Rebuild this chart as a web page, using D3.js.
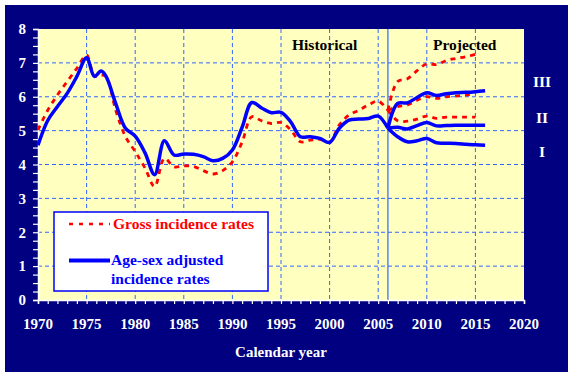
<!DOCTYPE html>
<html>
<head>
<meta charset="utf-8">
<script src="https://cdn.jsdelivr.net/npm/d3@7"></script>
<style>
  body { margin: 0; background: #ffffff; }
</style>
</head>
<body>
<div id="vis"></div>
<script>
// historical data
var hist_years = [1970, 1971, 1972, 1973, 1974, 1975, 1975.8, 1976.5, 1977, 1978, 1979, 1980, 1981, 1982, 1983, 1984, 1985,
  1986, 1987, 1988, 1989, 1990, 1991, 1992, 1993, 1994, 1995, 1996, 1997, 1998, 1999, 2000, 2001, 2002, 2003, 2004, 2005, 2006];
var adjusted_hist = [4.57, 5.3, 5.71, 6.1, 6.6, 7.15, 6.6, 6.76, 6.6, 5.8, 5.07, 4.84, 4.35, 3.7, 4.7, 4.28, 4.31,
  4.3, 4.23, 4.11, 4.18, 4.43, 5.1, 5.83, 5.67, 5.53, 5.54, 5.26, 4.82, 4.82, 4.77, 4.65, 5.07, 5.31, 5.34, 5.36, 5.43, 5.07];
var gross_hist = [5.02, 5.6, 6.05, 6.45, 6.84, 7.23, 6.61, 6.64, 6.6, 5.6, 4.82, 4.38, 3.9, 3.35, 4.18, 3.93, 3.96,
  3.94, 3.82, 3.72, 3.82, 4.08, 4.66, 5.41, 5.29, 5.21, 5.24, 5.02, 4.67, 4.72, 4.74, 4.66, 5.17, 5.46, 5.6, 5.76, 5.87, 5.6];

// projections (scenarios I, II, III)
var adj_proj_years = [2006, 2007, 2008, 2009, 2010, 2011, 2012, 2013, 2014, 2015, 2016];
var adjusted_I   = [5.07, 4.82, 4.67, 4.7, 4.77, 4.64, 4.63, 4.62, 4.6, 4.58, 4.57];
var adjusted_II  = [5.07, 5.1, 5.05, 5.15, 5.24, 5.14, 5.15, 5.16, 5.16, 5.16, 5.16];
var adjusted_III = [5.07, 5.8, 5.82, 5.98, 6.12, 6.04, 6.09, 6.12, 6.13, 6.15, 6.18];

var gross_proj_years = [2006, 2007, 2008, 2009, 2010, 2011, 2012, 2013, 2014, 2015];
var gross_I   = [5.6, 5.29, 5.28, 5.34, 5.43, 5.36, 5.4, 5.4, 5.4, 5.4];
var gross_II  = [5.6, 5.71, 5.76, 5.9, 6.0, 5.95, 6.0, 6.02, 6.05, 6.1];
var gross_III = [5.6, 6.45, 6.53, 6.77, 6.97, 6.95, 7.07, 7.13, 7.18, 7.25];

var x_ticks = [1970, 1975, 1980, 1985, 1990, 1995, 2000, 2005, 2010, 2015, 2020];
var y_ticks = [0, 1, 2, 3, 4, 5, 6, 7, 8];
var scenario_labels = ['III', 'II', 'I'];

var navy = '#000080';
var grid_color = '#3366ff';
var serif = '"Liberation Serif", "DejaVu Serif", "Times New Roman", serif';

var W = 573, H = 376;
var margin = {left: 38, right: 49, top: 29, bottom: 76};
var width = W - margin.left - margin.right;
var height = H - margin.top - margin.bottom;

var svg = d3.select('#vis')
  .append('svg')
  .attr('width', W)
  .attr('height', H)
  .attr('font-family', serif)
  .attr('font-weight', 'bold')
  .style('font-family', serif)
  .style('font-weight', 'bold');

svg.append('rect')
  .attr('x', 5).attr('y', 5)
  .attr('width', 563).attr('height', 367)
  .attr('fill', navy);

var g = svg.append('g')
  .attr('transform', 'translate(' + margin.left + ',' + margin.top + ')');

var x_scale = d3.scaleLinear().domain([1970, 2020]).range([0, width]);
var y_scale = d3.scaleLinear().domain([0, 8]).range([height, 0]);

g.append('rect')
  .attr('width', width).attr('height', height)
  .attr('fill', '#ffffc0');

// dashed grid
g.selectAll('.hgrid')
  .data(y_ticks.filter(function(d) { return d > 0 && d < 8; }))
  .enter().append('line')
  .attr('class', 'hgrid')
  .attr('x1', 0).attr('x2', width)
  .attr('y1', function(d) { return y_scale(d); })
  .attr('y2', function(d) { return y_scale(d); })
  .attr('stroke', grid_color)
  .attr('stroke-dasharray', '4,3');

g.selectAll('.vgrid')
  .data(x_ticks.filter(function(d) { return d > 1970 && d < 2020; }))
  .enter().append('line')
  .attr('class', 'vgrid')
  .attr('y1', 0).attr('y2', height)
  .attr('x1', function(d) { return x_scale(d); })
  .attr('x2', function(d) { return x_scale(d); })
  .attr('stroke', grid_color)
  .attr('stroke-dasharray', '4,3');

// boundary historical / projected
g.append('line')
  .attr('x1', x_scale(2006)).attr('x2', x_scale(2006))
  .attr('y1', 0).attr('y2', height)
  .attr('stroke', grid_color)
  .attr('stroke-width', 1.2);

// axes
var x_axis = d3.axisBottom(x_scale)
  .tickValues(d3.range(1970, 2021, 1))
  .tickSize(4)
  .tickFormat('');
var y_axis = d3.axisLeft(y_scale)
  .tickValues(d3.range(0, 8.01, 0.25))
  .tickSize(5)
  .tickFormat('');

var xg = g.append('g').attr('transform', 'translate(0,' + height + ')').call(x_axis);
var yg = g.append('g').call(y_axis);
[xg, yg].forEach(function(a) {
  a.select('.domain').attr('stroke', '#ffffff').attr('stroke-width', 1.5);
  a.selectAll('.tick line').attr('stroke', '#ffffff').attr('stroke-width', 1.2);
});

g.selectAll('.xlab')
  .data(x_ticks)
  .enter().append('text')
  .attr('x', function(d) { return x_scale(d); })
  .attr('y', height + 29)
  .attr('text-anchor', 'middle')
  .attr('fill', '#ffffff')
  .style('font-size', '15px')
  .text(function(d) { return d; });

g.selectAll('.ylab')
  .data(y_ticks)
  .enter().append('text')
  .attr('x', -12)
  .attr('y', function(d) { return y_scale(d); })
  .attr('dy', '0.35em')
  .attr('text-anchor', 'end')
  .attr('fill', '#ffffff')
  .style('font-size', '15px')
  .text(function(d) { return d; });

svg.append('text')
  .attr('x', 281).attr('y', 357)
  .attr('text-anchor', 'middle')
  .attr('fill', '#ffffff')
  .style('font-size', '15px')
  .text('Calendar year');

// lines
var line = d3.line()
  .x(function(d) { return x_scale(d[0]); })
  .y(function(d) { return y_scale(d[1]); })
  .curve(d3.curveCatmullRom.alpha(0.5));

function draw_series(years, values, color, dashed) {
  g.append('path')
    .datum(d3.zip(years, values))
    .attr('d', line)
    .attr('fill', 'none')
    .attr('stroke', color)
    .attr('stroke-width', dashed ? 2.8 : 3.5)
    .attr('stroke-dasharray', dashed ? '5,5' : null)
    .attr('stroke-linejoin', 'round');
}

draw_series(hist_years, gross_hist, '#ff0000', true);
draw_series(gross_proj_years, gross_I, '#ff0000', true);
draw_series(gross_proj_years, gross_II, '#ff0000', true);
draw_series(gross_proj_years, gross_III, '#ff0000', true);

draw_series(hist_years, adjusted_hist, '#0000ff', false);
draw_series(adj_proj_years, adjusted_I, '#0000ff', false);
draw_series(adj_proj_years, adjusted_II, '#0000ff', false);
draw_series(adj_proj_years, adjusted_III, '#0000ff', false);

// period labels
svg.append('text').attr('x', 292).attr('y', 50).attr('fill', '#000000')
  .style('font-size', '15.5px').text('Historical');
svg.append('text').attr('x', 433).attr('y', 50).attr('fill', '#000000')
  .style('font-size', '15.5px').text('Projected');

// scenario labels
svg.selectAll('.scen')
  .data(scenario_labels)
  .enter().append('text')
  .attr('x', 542)
  .attr('y', function(d, i) { return [87, 123, 157][i]; })
  .attr('text-anchor', 'middle')
  .attr('fill', '#ffffff')
  .style('font-size', '15.5px')
  .text(function(d) { return d; });

// legend
var legend = svg.append('g');
legend.append('rect')
  .attr('x', 54).attr('y', 212)
  .attr('width', 214).attr('height', 79)
  .attr('fill', '#ffffff')
  .attr('stroke', '#0000ff')
  .attr('stroke-width', 1.5);
legend.append('line')
  .attr('x1', 69).attr('x2', 110).attr('y1', 224).attr('y2', 224)
  .attr('stroke', '#ff0000').attr('stroke-width', 2.5).attr('stroke-dasharray', '4,6');
legend.append('text')
  .attr('x', 113).attr('y', 229)
  .attr('fill', '#ff0000')
  .style('font-size', '15.5px')
  .text('Gross incidence rates');
legend.append('line')
  .attr('x1', 69).attr('x2', 110).attr('y1', 260.5).attr('y2', 260.5)
  .attr('stroke', '#0000ff').attr('stroke-width', 4);
legend.append('text')
  .attr('x', 111).attr('y', 265)
  .attr('fill', '#0000ff')
  .style('font-size', '15.5px')
  .text('Age-sex adjusted');
legend.append('text')
  .attr('x', 111).attr('y', 284)
  .attr('fill', '#0000ff')
  .style('font-size', '15.5px')
  .text('incidence rates');
</script>
</body>
</html>
